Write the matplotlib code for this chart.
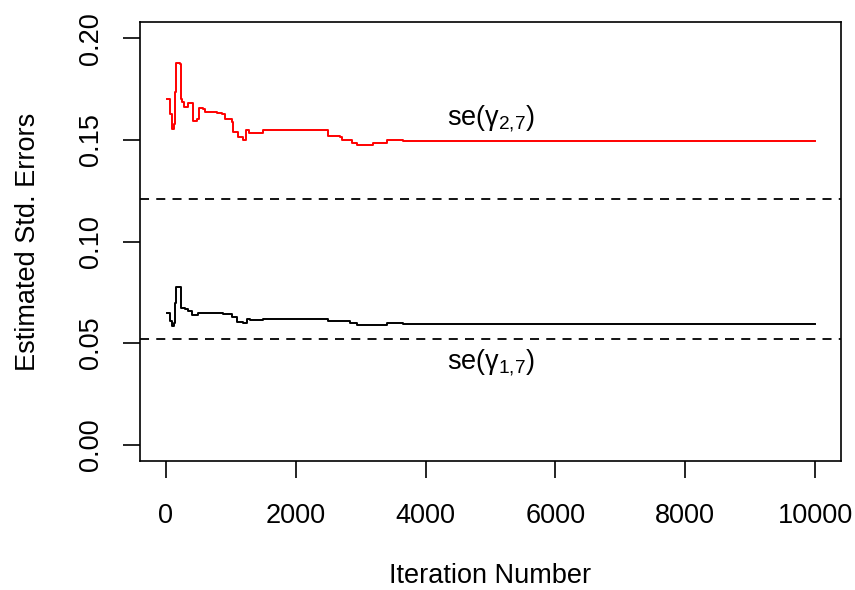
import matplotlib
matplotlib.use("Agg")
import matplotlib.pyplot as plt

plt.rcParams['font.family'] = ['Liberation Sans', 'DejaVu Sans']
plt.rcParams['mathtext.fontset'] = 'custom'
plt.rcParams['mathtext.rm'] = 'Liberation Sans'
plt.rcParams['mathtext.it'] = 'Liberation Sans'

# red trace: se(gamma_2,7)
iter_red = [10, 60, 97, 130, 139, 154, 216, 230, 242, 282, 344, 396, 411, 473, 514, 575,
            601, 781, 858, 909, 1012, 1027, 1114, 1191, 1233, 1284, 1448, 1499, 2465,
            2501, 2681, 2707, 2835, 2861, 2938, 3194, 3400, 3410, 3631, 3657, 10000]
se_red = [0.170, 0.163, 0.1556, 0.158, 0.1736, 0.1879, 0.1876, 0.1700, 0.1687, 0.1663, 0.168,
          0.168, 0.1594, 0.1605, 0.1655, 0.165, 0.1638, 0.1633, 0.163, 0.1605, 0.1589,
          0.154, 0.1512, 0.1502, 0.1548, 0.1532, 0.1535, 0.1548, 0.1548, 0.1518, 0.1512,
          0.1499, 0.1502, 0.1486, 0.1476, 0.1486, 0.1490, 0.1502, 0.1502, 0.1494, 0.1494]

# black trace: se(gamma_1,7)
iter_blk = [10, 60, 97, 130, 139, 154, 216, 231, 293, 344, 396, 498, 575, 883, 1012, 1089,
            1191, 1243, 1294, 1499, 2465, 2501, 2835, 2938, 3400, 3657, 10000]
se_blk = [0.0647, 0.061, 0.0585, 0.060, 0.0696, 0.0778, 0.0778, 0.0672, 0.0667, 0.066, 0.0639,
          0.065, 0.0647, 0.0642, 0.063, 0.0606, 0.0601, 0.0618, 0.0614, 0.0621, 0.0621,
          0.0609, 0.0601, 0.059, 0.0598, 0.0595, 0.0595]

ref_lines = [0.121, 0.052]

fig = plt.figure(figsize=(8.55, 5.9), dpi=100)
ax = fig.add_axes([0.1637, 0.2186, 0.82, 0.744])

ax.plot(iter_red, se_red, color='red', lw=1.4, drawstyle='steps-post')
ax.plot(iter_blk, se_blk, color='black', lw=1.4, drawstyle='steps-post')
for h in ref_lines:
    ax.axhline(h, color='black', lw=1.3, dashes=(5, 4))

ax.text(5000, 0.1605, r'se($\gamma_{2{,}7}$)', fontsize=19.5, ha='center', va='center')
ax.text(5000, 0.0405, r'se($\gamma_{1{,}7}$)', fontsize=19.5, ha='center', va='center')

ax.set_xlim(-400, 10400)
ax.set_ylim(-0.008, 0.208)
ax.set_xticks([0, 2000, 4000, 6000, 8000, 10000])
ax.set_yticks([0.00, 0.05, 0.10, 0.15, 0.20])
ax.set_yticklabels(['0.00', '0.05', '0.10', '0.15', '0.20'], rotation=90, va='center')
ax.tick_params(labelsize=19.5, length=12, width=1.2)
ax.tick_params(axis='x', pad=18)
ax.tick_params(axis='y', pad=14)
for s in ax.spines.values():
    s.set_linewidth(1.2)

ax.set_xlabel('Iteration Number', fontsize=19.5, labelpad=24.5)
ax.set_ylabel('Estimated Std. Errors', fontsize=19.5, labelpad=26.5)

fig.savefig('out.png', dpi=100)
